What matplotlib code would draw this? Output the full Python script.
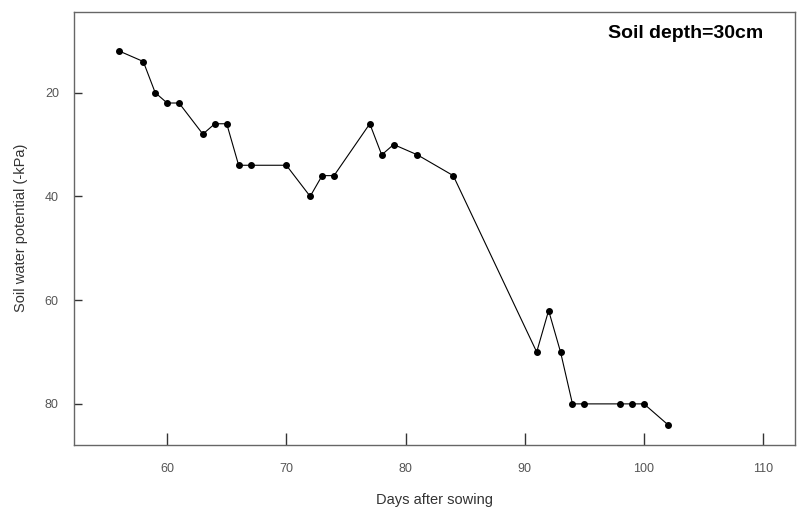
import matplotlib.pyplot as plt

plt.rcParams["font.family"] = ["Liberation Sans", "DejaVu Sans"]

# Soil water potential readings at 30 cm depth
days = [56, 58, 59, 60, 61, 63, 64, 65, 66, 67, 70, 72, 73, 74, 77, 78, 79,
        81, 84, 91, 92, 93, 94, 95, 98, 99, 100, 102]
potential = [12, 14, 20, 22, 22, 28, 26, 26, 34, 34, 34, 40, 36, 36, 26, 32, 30,
             32, 36, 70, 62, 70, 80, 80, 80, 80, 80, 84]

x_ticks = [60, 70, 80, 90, 100, 110]
y_ticks = [20, 40, 60, 80]

fig = plt.figure(figsize=(7.97, 5.09), dpi=100)
ax = fig.add_axes([0.093, 0.126, 0.905, 0.851])

ax.plot(days, potential, color="black", linewidth=0.8, marker="o",
        markersize=4, markerfacecolor="black")

ax.set_xlim(52.2, 112.7)
ax.set_ylim(87.9, 4.4)
ax.set_xticks(x_ticks)
ax.set_yticks(y_ticks)

ax.tick_params(axis="x", direction="in", length=9, width=1, pad=13,
               labelsize=9, labelcolor="#555555", color="#333333")
ax.tick_params(axis="y", direction="in", length=6, width=1, pad=11,
               labelsize=9, labelcolor="#555555", color="#333333")
for s in ax.spines.values():
    s.set_color("#666666")
    s.set_linewidth(1)

ax.set_xlabel("Days after sowing", fontsize=10.5, color="#333333", labelpad=13)
ax.set_ylabel("Soil water potential (-kPa)", fontsize=10.5, color="#333333",
              labelpad=12)

ax.text(0.955, 0.95, "Soil depth=30cm", transform=ax.transAxes, ha="right",
        va="center", fontsize=14, fontweight="bold", color="black")

fig.savefig("out.png", dpi=100)
